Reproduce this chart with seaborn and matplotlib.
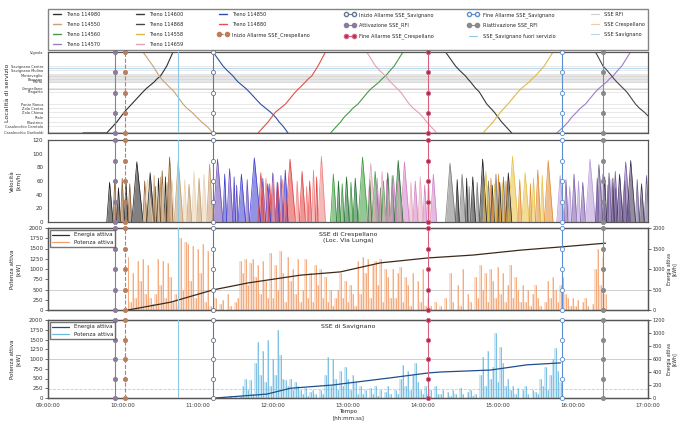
import numpy as np
import pandas as pd
import matplotlib
matplotlib.use("Agg")
import matplotlib.pyplot as plt
import matplotlib.transforms as mtransforms
from matplotlib.lines import Line2D
import seaborn as sns

sns.set_theme(style="white")
plt.rcParams["font.family"] = ["DejaVu Sans"]

# ---------------- data ----------------
hour_ticks = [0, 60, 120, 180, 240, 300, 360, 420, 480]  # minutes after 09:00
hour_labels = ["09:00:00", "10:00:00", "11:00:00", "12:00:00", "13:00:00",
               "14:00:00", "15:00:00", "16:00:00", "17:00:00"]

stations = ["Casalecchio Garibaldi", "Casalecchio Ceretolo", "Pilastrino", "Riale",
            "Zola Chiesa", "Zola Centro", "Ponte Ronca", "Pragatto", "Crespellano",
            "Muffa", "Bazzano", "Monteveglio", "Savignano Mulino", "Savignano Centro",
            "Vignola"]
station_km = [0.0, 2.2, 3.5, 5.1, 6.7, 8.0, 9.3, 13.2, 14.4, 16.4, 17.3, 18.3, 20.2, 21.5, 26.0]
band_km = [16.0, 18.8]

train_names = ["Treno 114980", "Treno 114550", "Treno 114560", "Treno 114570",
               "Treno 114600", "Treno 114868", "Treno 114558", "Treno 114659",
               "Treno 114850", "Treno 114880"]
train_colors = ["#2f2f2f", "#c9a27a", "#4a9a4a", "#a07cc8", "#3a3a3a",
                "#4b4453", "#e0b84a", "#e4a0b8", "#2f4fa8", "#e0504a"]
# passing time (minutes after 09:00) at each station, stations ordered bottom -> top
train_times = [
    [47, 52, 55, 58, 61, 64, 67, 76, 79, 85, 87, 90, 93, 95, 100],
    [132, 127, 123, 119, 115, 111, 108, 101, 98, 93, 91, 89, 86, 84, 76],
    [226, 231, 234, 237, 241, 244, 248, 256, 259, 265, 267, 270, 274, 277, 284],
    [407, 413, 416, 419, 423, 426, 430, 438, 441, 447, 449, 452, 456, 459, 466],
    [371, 366, 363, 360, 357, 354, 351, 345, 342, 338, 336, 334, 329, 326, 318],
    [493, 488, 485, 481, 477, 473, 470, 463, 460, 455, 453, 451, 447, 444, 438],
    [348, 353, 356, 359, 362, 365, 368, 376, 379, 385, 387, 390, 394, 397, 404],
    [311, 306, 303, 300, 296, 292, 289, 282, 279, 274, 272, 270, 265, 262, 255],
    [192, 188, 185, 182, 178, 174, 170, 161, 158, 152, 150, 148, 143, 140, 132],
    [168, 173, 176, 179, 182, 186, 190, 198, 201, 206, 208, 211, 214, 216, 222],
]
first_train_wait = 28  # first train waiting at origin since 09:28

speed_colors = [
    ["#1a1a1a", "#8b5a2b"], ["#c49a6c", "#e8d2b0"], ["#3a9a3a", "#1f6b2f"],
    ["#b59ad8", "#7a5aa8"], ["#202020", "#7a7a7a"], ["#3b2f4f", "#6a5a8a"],
    ["#e8c040", "#e08a30"], ["#d080c8", "#e8a8c0"], ["#3a3ad0", "#6a4ab8"],
    ["#e04040", "#f08080"],
]
# peak speed [km/h] per inter-station segment (bottom -> top)
speed_peaks = [
    [58, 62, 50, 64, 60, 56, 88, 60, 72, 52, 64, 75, 66, 95],
    [85, 70, 64, 74, 55, 62, 90, 60, 58, 54, 66, 52, 68, 62],
    [70, 60, 56, 66, 58, 64, 95, 62, 74, 50, 60, 72, 68, 90],
    [68, 62, 52, 70, 60, 58, 92, 64, 70, 54, 62, 74, 66, 88],
    [72, 66, 58, 70, 54, 60, 92, 58, 66, 52, 64, 70, 62, 86],
    [66, 60, 54, 68, 56, 62, 90, 60, 70, 50, 64, 72, 66, 84],
    [74, 64, 56, 70, 58, 60, 96, 62, 72, 56, 64, 76, 68, 90],
    [70, 62, 54, 66, 60, 58, 88, 60, 68, 52, 62, 74, 64, 86],
    [76, 68, 58, 72, 56, 64, 94, 62, 70, 54, 66, 78, 70, 92],
    [72, 64, 56, 70, 58, 62, 92, 60, 74, 52, 60, 76, 66, 96],
]

event_names = ["Inizio Allarme SSE_Crespellano", "Inizio Allarme SSE_Savignano",
               "Attivazione SSE_RFI", "Fine Allarme SSE_Crespellano",
               "Fine Allarme SSE_Savignano", "Riattivazione SSE_RFI",
               "SSE_Savignano fuori servizio"]
event_times = [61.6, 132, 53.6, 304, 411, 444, 104]
event_colors = ["#b98060", "#6a7590", "#8c7c9c", "#d9607e", "#5b8fd0", "#8a8a8a", "#8ecae6"]
event_face = ["#b98060", "white", "#8c7c9c", "#a03050", "white", "#8a8a8a", "none"]
event_ls = ["--", "-", "-", "-", "-", "-", "-"]
event_marker = ["o", "o", "o", "o", "o", "o", ""]

sse_names = ["SSE RFI", "SSE Crespellano", "SSE Savignano"]
sse_km = [0.4, 14.0, 21.0]
sse_colors = ["#cfcfcf", "#f5c9a8", "#b8d8ef"]

# active power [kW], sampled every 2 minutes
cresp_t0 = 64
cresp_power = [1300, 200, 900, 300,
               1200, 700, 1250, 400, 1100,
               300, 150, 400,
               1250, 600, 1200, 300, 1150, 800,
               200, 400, 100,
               1750, 500, 1650,
               1600, 700, 1550, 300, 1500, 900,
               1600, 200, 1450, 100,
               0, 300, 0, 150, 250, 0, 400, 100, 0, 200,
               300, 1200, 900, 1250, 600, 1150, 1250, 800, 1100, 400, 1200, 700, 300,
               1400, 300, 1100, 500, 1450, 900, 200, 1300, 700, 1000, 400, 1250, 200,
               500, 1250, 300, 900, 200, 1100, 600, 1000, 300, 800, 200, 500, 100, 300,
               500, 900, 300, 700, 200, 600, 400, 100,
               1200, 400, 1300, 900, 1250, 300, 1100, 1200, 600, 1250, 200, 1000, 800, 300,
               1000, 300, 900, 1050, 200, 800, 600, 100,
               900, 0, 700, 200, 1000, 100, 300,
               100, 0, 200, 0, 100, 0,
               300, 0, 900, 200, 0, 600, 100, 1000, 0, 400, 200, 0,
               800, 300, 1100, 500, 900, 200, 1000, 700, 300, 1050, 400, 900, 200, 600,
               1100, 300, 800, 500, 200,
               600, 200, 500, 100, 400, 600, 300, 100, 0, 200,
               700, 300, 800, 500, 200, 600, 800, 400, 300, 100,
               300, 100, 250, 0, 200, 300, 100, 0, 150,
               1000, 1500, 600, 1300, 400]
sav_t0 = 134
sav_power = [0, 20, 0, 30, 0, 0, 50, 0, 20, 0, 40,
             300, 500, 200, 450, 100,
             900, 1430, 600, 1200,
             400, 1490, 300, 1000,
             600, 1740, 1100, 500,
             450, 300, 500, 200, 400, 300,
             200, 100, 250, 50, 150, 200, 100, 0, 200, 100,
             600, 1050, 300, 1000, 500, 200,
             700, 300, 800, 500, 200, 600, 400, 100,
             300, 100, 200, 0, 250, 100, 300, 50, 200, 0, 150, 300, 100, 0, 200, 100,
             500, 850, 300, 700, 200, 600, 900, 400, 200, 100,
             300, 100, 200, 0, 300, 100,
             100, 200, 0, 150, 50, 200, 100, 0, 250, 100, 0, 150, 200, 50, 100, 0,
             600, 1050, 300, 1200, 500,
             800, 1660, 400, 1300, 900, 300, 500,
             200, 300, 100, 250, 0, 200, 300, 100, 0, 200, 150, 100,
             500, 300, 800, 200, 600, 1000, 1280, 700, 400]

# cumulative active energy [kWh]
cresp_energy_t = [64, 98, 132, 160, 202, 234, 266, 304, 340, 378, 411, 446]
cresp_energy = [0, 190, 490, 660, 850, 930, 1150, 1270, 1340, 1460, 1540, 1630]
sav_energy_t = [134, 175, 194, 228, 236, 274, 304, 314, 354, 383, 410]
sav_energy = [0, 60, 150, 200, 220, 310, 385, 400, 430, 510, 540]

# ---------------- figure ----------------
fig = plt.figure(figsize=(6.79, 4.25), dpi=100)
L, W = 48 / 679, 600 / 679
H = 425
ax1 = fig.add_axes([L, 1 - 133 / H, W, 81 / H])
ax2 = fig.add_axes([L, 1 - 222 / H, W, 82 / H])
ax3 = fig.add_axes([L, 1 - 310 / H, W, 82 / H])
ax4 = fig.add_axes([L, 1 - 398 / H, W, 78 / H])
axes = [ax1, ax2, ax3, ax4]

spine_col = "#555555"
for ax in axes:
    ax.set_xlim(0, 480)
    ax.set_xticks(hour_ticks)
    ax.set_xticklabels([])
    ax.tick_params(axis="both", labelsize=4, length=2, width=0.5, pad=1.5, colors="#333333")
    for s in ax.spines.values():
        s.set_color(spine_col)
        s.set_linewidth(0.9)

# ---- panel 1: train graph ----
for k in station_km:
    ax1.axhline(k, color="#d8d8d8", lw=0.4, zorder=0)
ax1.axhspan(band_km[0], band_km[1], color="#c8c8c8", alpha=0.45, lw=0, zorder=0)
for k, c in zip(sse_km, sse_colors):
    ax1.axhline(k, color=c, lw=0.8, zorder=1)

rows = []
for name, times in zip(train_names, train_times):
    pts = sorted(zip(times, station_km))
    if name == train_names[0]:
        pts = [(first_train_wait, station_km[0])] + pts
    for t, k in pts:
        rows.append({"train": name, "time": t, "km": k})
df_tr = pd.DataFrame(rows)
sns.lineplot(data=df_tr, x="time", y="km", hue="train", palette=dict(zip(train_names, train_colors)),
             estimator=None, sort=False, legend=False, lw=0.8, ax=ax1)
ax1.set_ylim(station_km[0], station_km[-1])
ax1.set_yticks(station_km)
ax1.set_yticklabels(stations, fontsize=2.6)
ax1.set_xlabel("")
ax1.set_ylabel("Località di servizio", fontsize=4.5)
ax1.yaxis.set_label_coords(-0.063, 0.5)

# ---- panel 2: speed ----
for times, peaks, cols in zip(train_times, speed_peaks, speed_colors):
    for i, v in enumerate(peaks):
        a, b = sorted((times[i], times[i + 1]))
        xs = [a, a + 0.45 * (b - a), b]
        ys = [0, v, 0]
        c = cols[i % 2]
        ax2.fill_between(xs, ys, color=c, alpha=0.55, lw=0)
        ax2.plot(xs, ys, color=c, lw=0.5)
ax2.set_ylim(0, 120)
ax2.set_yticks(range(0, 121, 20))
ax2.set_ylabel("Velocità\n[km/h]", fontsize=4)
ax2.yaxis.set_label_coords(-0.045, 0.5)


# ---- panels 3/4: power & energy ----
def power_panel(ax, t0, power, et, energy, pcol, ecol, title, rmax, rstep):
    t = t0 + 2 * np.arange(len(power))
    ax.fill_between(t, power, step="mid", color=pcol, alpha=0.35, lw=0)
    ax.vlines(t, 0, power, color=pcol, lw=0.7, alpha=0.8)
    ax.set_ylim(0, 2000)
    ax.set_yticks(range(0, 2001, 250))
    ax.set_ylabel("Potenza attiva\n[kW]", fontsize=4)
    ax.yaxis.set_label_coords(-0.045, 0.5)
    axr = ax.twinx()
    sns.lineplot(x=et, y=energy, color=ecol, lw=0.9, ax=axr)
    axr.set_ylim(0, rmax)
    axr.set_yticks(range(0, rmax + 1, rstep))
    axr.tick_params(axis="y", labelsize=3.5, length=2, width=0.5, pad=1.2, colors="#333333")
    axr.set_ylabel("Energia attiva\n[kWh]", fontsize=3.3, linespacing=1.0)
    axr.yaxis.set_label_coords(1.032, 0.5)
    for s in axr.spines.values():
        s.set_color(spine_col)
        s.set_linewidth(0.9)
    ax.text(0.5, 0.95, title, transform=ax.transAxes, ha="center", va="top", fontsize=4.5)
    hl = [Line2D([], [], color=ecol, lw=0.9), Line2D([], [], color=pcol, lw=0.9)]
    axr.legend(hl, ["Energia attiva", "Potenza attiva"], loc="upper left", fontsize=4,
               frameon=True, fancybox=False, edgecolor="#555555", handlelength=3,
               borderaxespad=0.4, labelspacing=0.5)
    return axr


ax3.axhline(500, color="#c8c8c8", lw=0.6, zorder=0)
ax4.axhline(1000, color="#c8c8c8", lw=0.6, zorder=0)
ax4.axhline(230, color="#b8cfe0", lw=0.6, ls="--", zorder=0)
ax3r = power_panel(ax3, cresp_t0, cresp_power, cresp_energy_t, cresp_energy, "#f4a06a", "#3b2a1a",
                   "SSE di Crespellano\n(Loc. Via Lunga)", 2000, 500)
ax4r = power_panel(ax4, sav_t0, sav_power, sav_energy_t, sav_energy, "#6bb8e0", "#1f4e8a",
                   "SSE di Savignano", 1200, 200)

ax4.set_xticklabels(hour_labels, fontsize=4)
ax4.set_xlabel("Tempo\n[hh:mm:ss]", fontsize=4, labelpad=1)

# ---- events on all panels ----
marker_fracs = [0, 0.25, 0.5, 0.75, 1.0]
for ax in [ax1, ax2, ax3r, ax4r]:
    trans = mtransforms.blended_transform_factory(ax.transData, ax.transAxes)
    for t, c, fc, ls, mk in zip(event_times, event_colors, event_face, event_ls, event_marker):
        ax.axvline(t, color=c, ls=ls, lw=0.8, zorder=4)
        if mk:
            ax.plot([t] * len(marker_fracs), marker_fracs, transform=trans, ls="none", marker=mk,
                    ms=3, mfc=fc, mec=c, mew=0.6, clip_on=False, zorder=5)

# ---- main legend ----
handles = [Line2D([], [], color=c, lw=1.0) for c in train_colors]
handles += [Line2D([], [], color=c, ls=ls, marker=mk if mk else None, ms=3, mfc=fc, mec=c, lw=0.8)
            for c, fc, ls, mk in zip(event_colors, event_face, event_ls, event_marker)]
handles += [Line2D([], [], color=c, lw=0.8) for c in sse_colors]
labels = train_names + event_names + sse_names
fig.legend(handles, labels, loc="lower left", bbox_to_anchor=(L, 1 - 50 / H, W, 47 / H),
           mode="expand", ncol=6, fontsize=3.6, frameon=True, fancybox=False,
           edgecolor="#666666", borderaxespad=0, handlelength=2.2, numpoints=2,
           labelspacing=1.0, columnspacing=1.0, borderpad=0.6)

fig.savefig("out.png", dpi=100)
